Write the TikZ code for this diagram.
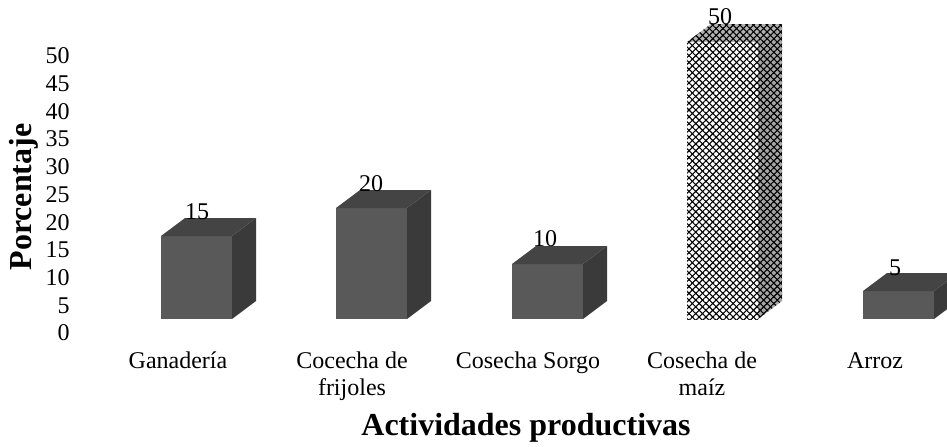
\documentclass[tikz,border=0pt]{standalone}
\usepackage{fontspec}
\setmainfont{Liberation Serif}
\usetikzlibrary{patterns.meta}
\definecolor{frente}{RGB}{89,89,89}
\definecolor{tapa}{RGB}{68,68,68}
\definecolor{lado}{RGB}{58,58,58}
\begin{document}
\begin{tikzpicture}[x=0.5pt, y=0.5pt,
    valor/.style = {font=\fontsize{12}{13.5}\selectfont, inner sep=0pt},
    eje/.style = {font=\fontsize{12}{13.5}\selectfont, inner sep=0pt, anchor=east},
    categoria/.style = {font=\fontsize{12}{13.5}\selectfont, inner sep=0pt, anchor=north, align=center},
    titulo/.style = {font=\fontsize{16}{18}\selectfont\bfseries, inner sep=0pt},
    malla/.style = {pattern={Lines[angle=45, distance=2.4pt, line width=0.55pt]}},
    malla2/.style = {pattern={Lines[angle=-45, distance=2.4pt, line width=0.55pt]}}]
    \clip (0,0) rectangle (947,446);

    % eje vertical
    \node[eje] (y0) at (70,113) {0};
    \node[eje] (y5) at (70,140.7) {5};
    \node[eje] (y10) at (70,168.4) {10};
    \node[eje] (y15) at (70,196.1) {15};
    \node[eje] (y20) at (70,223.8) {20};
    \node[eje] (y25) at (70,251.5) {25};
    \node[eje] (y30) at (70,279.2) {30};
    \node[eje] (y35) at (70,306.9) {35};
    \node[eje] (y40) at (70,334.6) {40};
    \node[eje] (y45) at (70,362.3) {45};
    \node[eje] (y50) at (70,390) {50};
    \node[titulo, rotate=90] (ytit) at (24,249) {Porcentaje};

    % barras
    \coordinate (b1) at (161,127);
    \fill[frente] (b1) rectangle ++(71,83);
    \fill[tapa] (b1) ++(0,83) -- ++(24,18) -- ++(71,0) -- ++(-24,-18) -- cycle;
    \fill[lado] (b1) ++(71,0) -- ++(24,18) -- ++(0,83) -- ++(-24,-18) -- cycle;

    \coordinate (b2) at (336,127);
    \fill[frente] (b2) rectangle ++(71,111);
    \fill[tapa] (b2) ++(0,111) -- ++(24,18) -- ++(71,0) -- ++(-24,-18) -- cycle;
    \fill[lado] (b2) ++(71,0) -- ++(24,18) -- ++(0,111) -- ++(-24,-18) -- cycle;

    \coordinate (b3) at (512,127);
    \fill[frente] (b3) rectangle ++(71,55);
    \fill[tapa] (b3) ++(0,55) -- ++(24,18) -- ++(71,0) -- ++(-24,-18) -- cycle;
    \fill[lado] (b3) ++(71,0) -- ++(24,18) -- ++(0,55) -- ++(-24,-18) -- cycle;

    % barra de malla (maiz)
    \coordinate (b4) at (687,127);
    \fill[white] (b4) rectangle ++(71,277);
    \fill[malla] (b4) rectangle ++(71,277);
    \fill[malla2] (b4) rectangle ++(71,277);
    \fill[gray!60] (b4) ++(0,277) -- ++(24,18) -- ++(71,0) -- ++(-24,-18) -- cycle;
    \fill[malla] (b4) ++(0,277) -- ++(24,18) -- ++(71,0) -- ++(-24,-18) -- cycle;
    \fill[malla2] (b4) ++(0,277) -- ++(24,18) -- ++(71,0) -- ++(-24,-18) -- cycle;
    \fill[gray!70] (b4) ++(71,0) -- ++(24,18) -- ++(0,277) -- ++(-24,-18) -- cycle;
    \fill[malla] (b4) ++(71,0) -- ++(24,18) -- ++(0,277) -- ++(-24,-18) -- cycle;
    \fill[malla2] (b4) ++(71,0) -- ++(24,18) -- ++(0,277) -- ++(-24,-18) -- cycle;

    \coordinate (b5) at (863,127);
    \fill[frente] (b5) rectangle ++(71,28);
    \fill[tapa] (b5) ++(0,28) -- ++(24,18) -- ++(71,0) -- ++(-24,-18) -- cycle;
    \fill[lado] (b5) ++(71,0) -- ++(24,18) -- ++(0,28) -- ++(-24,-18) -- cycle;

    % valores
    \node[valor] (v1) at (197,234) {15};
    \node[valor] (v2) at (371,262) {20};
    \node[valor] (v3) at (545,207) {10};
    \node[valor] (v4) at (720,429) {50};
    \node[valor] (v5) at (895,178) {5};

    % categorias
    \node[categoria] (c1) at (178,97) {\strut Ganadería};
    \node[categoria] (c2) at (352,97) {\strut Cocecha de\\frijoles};
    \node[categoria] (c3) at (528,97) {\strut Cosecha Sorgo};
    \node[categoria] (c4) at (702,97) {\strut Cosecha de\\maíz};
    \node[categoria] (c5) at (875,97) {\strut Arroz};
    \node[titulo, anchor=base] (xtit) at (526,11) {Actividades productivas};
\end{tikzpicture}
\end{document}
